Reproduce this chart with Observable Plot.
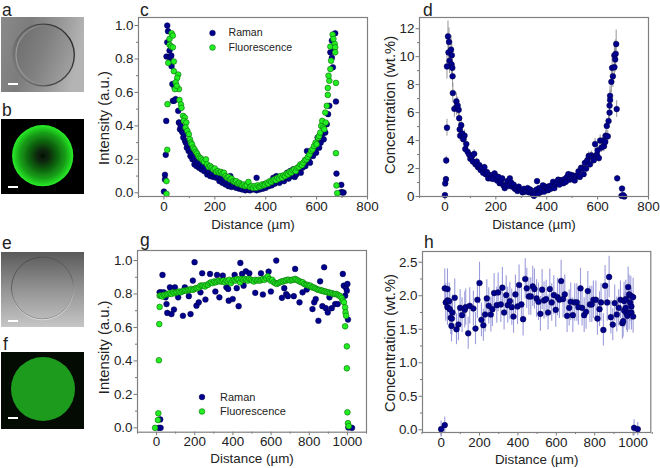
<!DOCTYPE html>
<html><head><meta charset="utf-8">
<script src="https://cdn.jsdelivr.net/npm/d3@7"></script>
<script src="https://cdn.jsdelivr.net/npm/@observablehq/plot@0.6"></script>
<style>
html,body{margin:0;padding:0;background:#fff;overflow:hidden}
#stage{position:relative;width:660px;height:468px;overflow:hidden;font-family:"Liberation Sans",Arial,sans-serif}
#stage>svg{position:absolute;background:transparent;overflow:visible}
.img{position:absolute;left:1px;width:83px;overflow:hidden}
.img svg{display:block;width:100%;height:100%}
.bar{position:absolute;left:8px;width:10px;height:1.8px;background:#fff}
.ltr{position:absolute;font-size:17.5px;line-height:14px;color:#222}
</style></head><body><div id="stage"></div>
<script>
const cRaman=[[0,.008],[4,.108],[4,.08],[7,.227],[9,.43],[13,1],[16,.966],[13,.9],[10,.815],[22,.85],[22,.81],[29,.82],[24,.78],[30,.757],[33,.65],[35,.55],[40,.55],[46,.56],[42,.63],[56,.49],[59,.42],
[60,.42],[63,.38],[66,.40],[70,.37],[73,.36],[76,.33],[80,.35],[83,.31],[86,.30],[90,.27],[93,.29],[97,.25],[100,.26],[104,.22],[108,.23],[112,.20],[116,.21],[120,.17],[124,.19],[128,.16],[133,.18],[138,.15],[143,.17],[148,.14],[153,.16],[158,.13],[164,.15],[170,.11],[176,.13],[182,.10],[188,.12],[194,.095],[200,.11],[206,.09],[212,.10],[218,.07],[224,.085],[230,.06],[236,.08],[242,.05],[248,.07],[254,.04],[260,.06],[261,.10],[266,.035],[272,.05],[278,.04],[284,.03],[290,.045],[296,.025],[302,.03],[308,.02],[314,.035],[320,.015],[326,.03],[332,.02],[338,.015],[344,.03],[350,.02],[356,.03],[364,.09],[364,.015],[370,.035],[376,.02],[382,.03],[388,.025],[394,.05],[400,.03],[406,.05],[412,.04],[418,.06],[424,.045],[430,.09],[436,.055],[442,.10],[448,.07],[454,.06],[460,.085],[466,.10],[472,.07],[478,.09],[484,.12],[490,.085],[496,.13],[502,.10],[508,.14],[514,.095],[520,.11],[526,.13],[532,.15],[538,.12],[544,.15],[550,.18],[556,.16],[562,.25],[568,.20],[574,.18],[580,.25],[586,.22],[592,.27],[598,.24],[604,.33],[610,.27],[616,.30],[622,.35],[628,.32],[634,.36],[640,.41],[645,.47],[650,.52],
[654,.84],[660,.807],[660,.91],[667,.85],[664,.75],[673,.954],[676,.546],[678,.115],[697,.048],[697,.004],[706,.002],[702,.002]];
const cFluor=[[10,-.006],[10,.07],[13,.257],[14,.53],[17,.777],[30,.954],[22,.92],[22,.885],[35,.94],[28,.875],[35,.87],[39,.785],[39,.727],[56,.707],[52,.687],[46,.66],[59,.62],[43,.62],[50,.64],[61,.555],[67,.528],[69,.508],[75,.46],[82,.45],[78,.43],[88,.42],[85,.39],[92,.37],[98,.35],
[102,.32],[106,.30],[110,.29],[115,.27],[120,.26],[125,.245],[130,.235],[135,.22],[140,.21],[146,.205],[152,.195],[158,.185],[165,.20],[170,.17],[176,.155],[182,.16],[188,.15],[194,.14],[200,.145],[206,.125],[212,.13],[218,.12],[224,.125],[230,.115],[236,.12],[242,.10],[248,.09],[254,.095],[260,.08],[266,.085],[272,.07],[278,.065],[284,.07],[290,.055],[296,.06],[302,.05],[308,.045],[314,.05],[320,.04],[326,.045],[332,.065],[338,.035],[344,.04],[350,.03],[356,.04],[362,.03],[368,.045],[374,.035],[380,.04],[386,.05],[392,.045],[398,.05],[404,.06],[410,.055],[416,.07],[422,.065],[428,.075],[434,.08],[440,.075],[446,.09],[452,.085],[458,.10],[464,.09],[470,.105],[476,.10],[482,.115],[488,.11],[494,.125],[500,.12],[506,.135],[512,.14],[518,.13],[524,.15],[530,.155],[536,.17],[542,.165],[548,.18],[554,.195],[560,.20],[566,.215],[572,.23],[578,.25],[584,.26],[590,.28],[596,.30],[600,.29],[606,.33],[610,.34],[614,.36],[618,.40],[622,.43],[626,.39],[630,.38],[634,.48],[636,.42],[640,.52],[644,.585],[644,.627],[650,.67],[647,.70],[654,.74],[657,.79],[654,.874],[663,.946],[671,.89],[673,.87],[673,.84],[666,.92],[676,.657],[676,.237],[678,.044],[681,-.002]];
const dPts=[[0,.1,.1],[1,.93,.2],[4,1.24,.2],[5,2.58,.3],[8,4.92,.6],[8,9.3,.9],[12,11.45,1.1],[16,11.05,1],[14,10.3,1],[24,10.5,1],[18,9.7,.9],[27,10.1,1],[26,9.45,.9],[29,9.2,.9],[30,8.6,.8],[31,7.4,.7],[37,6.27,.6],[45,6.8,.6],[45,6.4,.6],[54,6.2,.6],[50,6.5,.6],[56,5.6,.5],[58,4.8,.5],[64,5.1,.5],[60,4.35,.4],[68,4.5,.4],[77,4.35,.4],[72,4.1,.4],[84,3.75,.4],[80,3.4,.3],[89,3.2,.3],[95,3,.3],[100,2.7,.3],[105,2.85,.3],[115,3.05,.3],[110,2.5,.25],
[120,2.3,.25],[125,2.5,.25],[130,2.1,.2],[135,2.25,.2],[140,1.9,.2],[145,2.05,.2],[150,1.7,.2],[155,2.1,.2],[160,1.6,.2],[165,1.75,.2],[170,1.3,.2],[175,1.55,.2],[180,1.3,.15],[185,1.5,.15],[190,1.25,.15],[195,1.65,.15],[200,1.45,.15],[205,1.15,.15],[210,1.4,.15],[215,.95,.15],[220,1.05,.15],[225,1.3,.15],[230,.8,.1],[235,.6,.1],[240,.8,.1],[245,1.1,.1],[250,.75,.1],[255,1.3,.1],[260,1,.1],[265,.7,.1],[270,.85,.1],[275,.55,.1],[280,.6,.1],[285,.4,.1],[290,.7,.1],[295,.5,.1],[300,.45,.1],[305,.3,.1],[310,.55,.1],[315,.35,.1],[320,.4,.1],[325,.6,.1],[330,.3,.1],[335,.5,.1],[340,.3,.1],[345,.15,.1],[350,.05,.1],[355,.4,.1],[360,.5,.1],[362,1.1,.15],[365,.2,.1],[370,.6,.1],[375,.3,.1],[380,.5,.1],[385,.8,.1],[390,.35,.1],[395,.7,.1],[400,.6,.1],[405,.45,.1],[410,.75,.1],[415,.55,.1],[420,.8,.1],[425,1.05,.1],[430,.6,.1],[435,.9,.1],[440,1,.1],[445,1.2,.1],[450,.85,.1],[455,1.15,.1],[460,1.15,.1],[465,.95,.1],[470,1.25,.15],[475,1.05,.15],[480,1.4,.15],[485,1.6,.15],[490,1.2,.15],[495,1.55,.15],[500,1.3,.15],[505,1.5,.15],[510,1.15,.15],[515,1.45,.15],[520,1.5,.15],[525,1.8,.2],[530,1.4,.2],[535,2.05,.2],[540,2,.2],[545,1.6,.2],[550,2.4,.25],[555,2,.25],[560,2.6,.25],[565,2.9,.3],[570,2.3,.25],[575,2.95,.3],[580,2.8,.3],[585,2.6,.3],[590,3.75,.4],[595,2.9,.3],[597,3,.3],[600,3.3,.35],[605,2.75,.3],[610,4,.4],[615,3.5,.35],[620,4,.4],[625,3.6,.4],[630,3.9,.4],[632,4.35,.4],[636,5.05,.5],[640,4.3,.4],[643,5.4,.5],[647,6.5,.6],[647,6,.6],[649,7.2,.7],[649,6.9,.7],[654,8.2,.8],[657,9.2,.9],[660,8.6,.8],[666,9.25,.9],[666,10.1,1],[669,9.8,.9],[673,10.9,1],[671,10.2,1],[675,6.25,.6],[677,1.3,.2],[696,.57,.1],[694,.05,.1],[705,0,.1],[700,.1,.1]];
const gRaman=[[12,0],[19,.05],[21,0],[16,.81],[31,.914],[24,.81],[38,.81],[47,.78],[56,.80],[52,.74],[56,.687],[78,.68],[70,.84],[91,.707],[96,.84],[113,.78],[138,.67],[148,.84],[169,.787],[178,.68],[190,.88],[199,.99],[209,.73],[221,.75],[230,.81],[239,.924],[256,.767],[280,.92],[308,.815],[317,.914],[329,.78],[347,.91],[366,.84],[375,.83],[378,.76],[399,.77],[409,.914],[420,.835],[430,.727],[439,.986],[448,.92],[456,.85],[468,.936],[486,.924],[517,.807],[547,.924],[557,.797],[587,.934],[599,.815],[627,1],[657,.777],[669,.835],[679,.80],[688,.787],[719,.787],[726,.95],[749,.75],[765,.81],[787,.827],[817,.71],[826,.75],[834,.77],[848,.64],[857,.876],[869,.727],[878,.96],[887,.715],[897,.69],[906,.78],[918,.715],[936,.74],[949,.74],[976,.92],[981,.85],[988,.79],[991,.84],[997,.82],[1000,.86],[1003,.647],[1024,0],[1005,.002]];
const gFluor=[[-8,0],[7,.047],[9,.087],[12,.404],[14,.62],[16,.723],[16,.79],[22,.79],[30,.785],[38,.795],[46,.795],[54,.80],[62,.80],[70,.805],[78,.80],[86,.81],[94,.805],[102,.81],[110,.81],[118,.815],[126,.81],[134,.815],[142,.82],[150,.82],[158,.82],[166,.825],[174,.825],[182,.83],[190,.825],[198,.83],[206,.835],[214,.835],[222,.84],[230,.85],[238,.85],[246,.85],[254,.845],[262,.855],[270,.855],[278,.865],[286,.87],[294,.865],[302,.875],[310,.87],[318,.875],[326,.88],[334,.875],[342,.875],[350,.88],[358,.87],[366,.88],[374,.875],[382,.885],[390,.865],[398,.88],[406,.885],[414,.88],[422,.89],[430,.885],[438,.87],[446,.89],[454,.885],[462,.89],[470,.885],[478,.88],[486,.89],[494,.885],[502,.88],[510,.875],[518,.885],[526,.88],[534,.885],[542,.88],[550,.885],[558,.89],[566,.885],[574,.895],[582,.905],[590,.89],[598,.88],[606,.885],[614,.87],[622,.865],[630,.86],[638,.865],[646,.87],[654,.875],[662,.875],[670,.88],[678,.88],[686,.885],[694,.885],[702,.88],[710,.885],[718,.885],[726,.89],[734,.885],[742,.88],[750,.875],[758,.87],[766,.87],[774,.86],[782,.855],[790,.855],[798,.85],[806,.85],[814,.84],[822,.84],[830,.835],[838,.83],[846,.825],[854,.825],[862,.82],[870,.82],[878,.815],[886,.815],[894,.81],[902,.81],[910,.805],[918,.805],[926,.80],[934,.80],[942,.80],[950,.795],[958,.79],[964,.785],[970,.775],[976,.76],[982,.75],[988,.72],[990,.69],[993,.67],[988,.607],[997,.487],[997,.356],[1000,.093],[1003,.028],[1007,.01]];
const hPts=[[0,.01,.12],[19,.07,.12],[19,2.11,.29],[33,2.10,.3],[24,1.9,.28],[33,1.93,.28],[42,1.92,.27],[33,1.83,.27],[45,1.80,.27],[50,1.67,.25],[59,1.75,.26],[56,1.66,.25],[54,1.55,.24],[71,1.97,.28],[80,1.50,.23],[90,1.57,.24],[99,1.82,.27],[109,1.71,.26],[123,1.79,.27],[128,1.83,.27],[141,1.44,.24],[149,1.85,.27],[168,1.81,.26],[179,1.51,.24],[189,1.94,.28],[200,2.19,.31],[210,1.64,.25],[220,1.56,.24],[229,1.72,.26],[238,1.96,.28],[248,1.85,.27],[259,1.72,.26],[267,1.80,.26],[276,2.04,.29],[290,1.86,.27],[297,2.05,.29],[311,1.87,.27],[319,2.12,.3],[328,1.75,.26],[339,2.01,.29],[347,1.86,.27],[358,1.92,.28],[368,1.83,.27],[377,1.69,.25],[387,2.02,.29],[398,1.84,.27],[406,2.16,.3],[418,1.87,.27],[427,1.65,.25],[438,2.25,.3],[446,2.11,.3],[457,1.99,.28],[467,1.99,.28],[477,2.14,.3],[486,2.10,.3],[497,1.96,.28],[507,1.91,.28],[517,1.73,.26],[526,2.09,.3],[536,1.93,.28],[547,1.95,.28],[557,1.75,.26],[566,2.10,.3],[576,1.90,.28],[587,2.01,.29],[597,1.79,.26],[606,1.98,.28],[616,1.94,.28],[625,2.22,.31],[635,1.95,.28],[644,2.02,.29],[656,1.70,.25],[667,1.82,.27],[675,1.91,.28],[686,1.71,.26],[696,1.90,.28],[707,1.90,.28],[715,1.83,.27],[726,2.11,.3],[734,1.82,.27],[745,1.71,.26],[755,1.76,.26],[764,2.07,.29],[775,1.87,.27],[785,1.87,.27],[793,1.94,.28],[806,1.94,.28],[814,1.66,.25],[825,1.80,.26],[833,1.90,.28],[845,1.49,.24],[854,2.15,.3],[865,1.90,.28],[875,2.28,.31],[884,1.68,.25],[894,1.57,.24],[904,1.89,.27],[915,1.72,.26],[925,1.82,.27],[934,1.94,.28],[944,1.59,.24],[948,1.62,.24],[953,1.92,.28],[953,1.78,.26],[962,1.82,.27],[962,1.95,.28],[965,1.74,.26],[970,1.70,.25],[974,2.13,.3],[979,2.02,.29],[979,1.75,.26],[984,1.90,.28],[988,2.0,.29],[991,1.84,.27],[991,1.75,.26],[1000,1.98,.28],[1000,1.69,.25],[1005,.03,.12],[1024,.01,.1]];

const legendNames=["Raman","Fluorescence"];
const xLabel="Distance (µm)";
const xTicks6=[0,200,400,600,800], xMinor6=[-100,100,300,500,700];
const xTicks10=[0,200,400,600,800,1000], xMinor10=[-100,100,300,500,700,900,1100];
const yI=[0,.2,.4,.6,.8,1], yIm=[.1,.3,.5,.7,.9];
const yD=[0,2,4,6,8,10,12], yDm=[1,3,5,7,9,11];
const yH=[0,.5,1,1.5,2,2.5], yHm=[.25,.75,1.25,1.75,2.25];

const NAVY="#00008f", GREEN="#22ee22", FONT='"Liberation Sans",Arial,sans-serif';
const stage=document.getElementById("stage");

function panel(o){
  const mL=50,mR=12,mT=6,mB=42;
  const w=o.fx1-o.fx0+mL+mR,h=o.fy1-o.fy0+mT+mB;
  const svg=Plot.plot({
    width:w,height:h,marginLeft:mL,marginRight:mR,marginTop:mT,marginBottom:mB,
    style:{fontFamily:FONT,background:"transparent",overflow:"visible"},
    x:{domain:o.xd},y:{domain:o.yd},
    marks:[
      Plot.axisX({ticks:o.xt,tickSize:3.5,tickPadding:1,fontSize:13.4,stroke:"#777",fill:"#222",label:null,tickFormat:d=>String(d)}),
      Plot.axisX({ticks:o.xm,tickSize:2,stroke:"#777",label:null,tickFormat:()=>""}),
      Plot.axisY({ticks:o.yt,tickSize:3.5,tickPadding:1.5,fontSize:13.4,stroke:"#777",fill:"#222",label:null,tickFormat:o.yf}),
      Plot.axisY({ticks:o.ym,tickSize:2,stroke:"#777",label:null,tickFormat:()=>""}),
      ...o.marks,
      Plot.frame({stroke:"#808080",strokeWidth:1.2}),
      Plot.text([xLabel],{frameAnchor:"bottom",dy:o.xlDy,fontSize:13.4,fill:"#222",lineAnchor:"middle"}),
      Plot.text([o.yl],{frameAnchor:"left",textAnchor:"middle",rotate:-90,dx:o.ylDx,dy:o.ylDy,fontSize:14.8,fill:"#222"}),
      ...(o.legend||[])
    ]
  });
  svg.style.left=(o.fx0-mL)+"px";svg.style.top=(o.fy0-mT)+"px";
  stage.appendChild(svg);
}
const R=2.85;
const dotR=(data)=>Plot.dot(data,{x:d=>d[0],y:d=>d[1],r:R,fill:NAVY,stroke:"#000040",strokeWidth:.5});
const dotF=(data)=>Plot.dot(data,{x:d=>d[0],y:d=>d[1],r:R,fill:GREEN,stroke:"#0a6a0a",strokeWidth:.6});
const err=(data,c,sw)=>Plot.ruleX(data,{x:d=>d[0],y1:d=>d[1]-d[2],y2:d=>d[1]+d[2],stroke:c,strokeWidth:sw});
function legend(dx,dy1,dy2,tx,fs){
  return [
    Plot.dot([0],{frameAnchor:"top-left",dx,dy:dy1,r:R,fill:NAVY,stroke:"#000040",strokeWidth:.5}),
    Plot.dot([0],{frameAnchor:"top-left",dx,dy:dy2,r:R,fill:GREEN,stroke:"#0a6a0a",strokeWidth:.6}),
    Plot.text([legendNames[0]],{frameAnchor:"top-left",dx:tx,dy:dy1,fontSize:fs,fill:"#222",textAnchor:"start",lineAnchor:"middle"}),
    Plot.text([legendNames[1]],{frameAnchor:"top-left",dx:tx,dy:dy2,fontSize:fs,fill:"#222",textAnchor:"start",lineAnchor:"middle"})
  ];
}
const f1=d3.format(".1f");
panel({fx0:138,fx1:367,fy0:17,fy1:196,xd:[-100,800],yd:[-.022,1.048],xt:xTicks6,xm:xMinor6,yt:yI,ym:yIm,yf:f1,yl:"Intensity (a.u.)",xlDy:28,ylDx:-34,ylDy:11,
  marks:[dotR(cRaman),dotF(cFluor)],legend:legend(74,15.5,30,90,10.6)});
panel({fx0:419.3,fx1:648.3,fy0:17,fy1:196,xd:[-100,800],yd:[0,12.8],xt:xTicks6,xm:xMinor6,yt:yD,ym:yDm,yf:d=>String(d),yl:"Concentration (wt.%)",xlDy:28,ylDx:-29,ylDy:-2,
  marks:[err(dPts,"#8a8a8a",.9),dotR(dPts)]});
panel({fx0:136.7,fx1:365.7,fy0:250,fy1:431.7,xd:[-100,1100],yd:[-.026,1.06],xt:xTicks10,xm:xMinor10,yt:yI,ym:yIm,yf:f1,yl:"Intensity (a.u.)",xlDy:27,ylDx:-33,ylDy:6,
  marks:[dotR(gRaman),dotF(gFluor)],legend:legend(64.5,146.5,161,82.5,11)});
panel({fx0:421.7,fx1:650,fy0:250.7,fy1:431.7,xd:[-97,1092],yd:[-.04,2.66],xt:xTicks10,xm:xMinor10,yt:yH,ym:yHm,yf:f1,yl:"Concentration (wt.%)",xlDy:27,ylDx:-32,ylDy:1,
  marks:[err(hPts,"#9c9cdc",1.1),dotR(hPts)]});

// micrographs a, b, e, f (decorative image panels)
function img(top,h,inner,barTop){
  const d=document.createElement("div");d.className="img";d.style.top=top+"px";d.style.height=h+"px";
  d.innerHTML=`<svg viewBox="0 0 83 ${h}" xmlns="http://www.w3.org/2000/svg">${inner}</svg>`;
  stage.appendChild(d);
  const b=document.createElement("div");b.className="bar";b.style.top=barTop+"px";stage.appendChild(b);
}
const lg=(id,a,b,stops)=>`<linearGradient id="${id}" x1="${a[0]}" y1="${a[1]}" x2="${b[0]}" y2="${b[1]}">${stops.map(s=>`<stop offset="${s[0]}" stop-color="${s[1]}" stop-opacity="${s[2]??1}"/>`).join("")}</linearGradient>`;
img(17,75,`<defs>
 ${lg("aBg",[0,0],[1,.2],[[0,"#8a8a8a"],[.35,"#7c7c7c"],[.7,"#969696"],[1,"#b4b4b4"]])}
 ${lg("aIn",[0,.2],[1,.6],[[0,"#6c6c6c"],[.5,"#808080"],[1,"#a0a0a0"]])}
 ${lg("aRim",[0,.6],[1,.3],[[0,"#7a7a7a"],[.45,"#4c4c4c"],[1,"#2a2a2a"]])}
 ${lg("aGh",[0,.5],[.5,.5],[[0,"#9a9a9a"],[1,"#9a9a9a",0]])}
 <filter id="s1"><feGaussianBlur stdDeviation=".45"/></filter></defs>
 <rect width="83" height="75" fill="url(#aBg)"/>
 <g filter="url(#s1)"><circle cx="42.5" cy="38" r="30.8" fill="url(#aIn)" stroke="url(#aRim)" stroke-width="1.3"/>
 <circle cx="45" cy="38" r="30" fill="none" stroke="url(#aGh)" stroke-width="1.3"/></g>`,83);
img(119,75,`<defs><radialGradient id="bG" r=".5" cx=".5" cy=".5">
  <stop offset="0" stop-color="#051005"/><stop offset=".2" stop-color="#092809"/><stop offset=".5" stop-color="#0f6a0f"/><stop offset=".75" stop-color="#18a018"/><stop offset=".93" stop-color="#22d822"/><stop offset="1" stop-color="#2bf02b"/></radialGradient>
  <filter id="s2"><feGaussianBlur stdDeviation=".5"/></filter></defs>
 <rect width="83" height="75" fill="#000"/>
 <circle cx="41.7" cy="36.7" r="30.6" fill="url(#bG)" filter="url(#s2)"/>`,186);
img(252,75,`<defs>${lg("eBg",[0,0],[0,1],[[0,"#5a5a5a"],[.5,"#939393"],[1,"#c6c6c6"]])}
 ${lg("eRim",[.2,0],[.5,1],[[0,"#4a4a4a"],[.6,"#6a6a6a"],[1,"#8a8a8a"]])}
 ${lg("eGh",[0,0],[.2,1],[[.5,"#fff",0],[1,"#e8e8e8",.9]])}
 <filter id="s3"><feGaussianBlur stdDeviation=".4"/></filter></defs>
 <rect width="83" height="75" fill="url(#eBg)"/>
 <g filter="url(#s3)"><circle cx="41.5" cy="36" r="31" fill="none" stroke="url(#eRim)" stroke-width="1"/>
 <circle cx="41.5" cy="36.8" r="31" fill="none" stroke="url(#eGh)" stroke-width=".8"/></g>`,320);
img(352,77,`<defs><filter id="s4"><feGaussianBlur stdDeviation=".5"/></filter></defs>
 <rect width="83" height="77" fill="#030b03"/>
 <circle cx="42" cy="37" r="32" fill="#1f9b1f" filter="url(#s4)"/>`,417);
const ltrs=[["a",2,3],["b",2,103],["c",140,3],["d",423,3],["e",2,236],["f",3,337],["g",140,233],["h",424,235]];
for(const [t,x,y] of ltrs){const s=document.createElement("div");s.className="ltr";s.textContent=t;s.style.left=x+"px";s.style.top=y+"px";stage.appendChild(s);}
</script></body></html>
